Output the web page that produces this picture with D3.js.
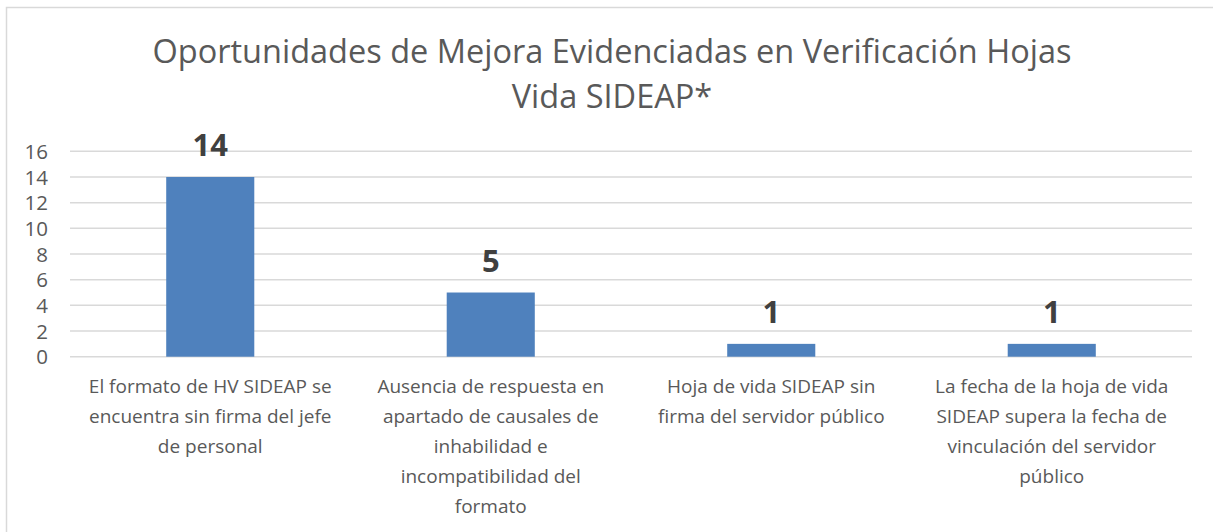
<!DOCTYPE html>
<html>
<head>
<meta charset="utf-8">
<script src="https://cdn.jsdelivr.net/npm/d3@7"></script>
<style>
  body { margin: 0; background: #fff; }
  svg { display: block; }
</style>
</head>
<body>
<div id="chart"></div>
<script>
var titleLines = ['Oportunidades de Mejora Evidenciadas en Verificación Hojas', 'Vida SIDEAP*']
var categories = [
  'El formato de HV SIDEAP se encuentra sin firma del jefe de personal',
  'Ausencia de respuesta en apartado de causales de inhabilidad e incompatibilidad del formato',
  'Hoja de vida SIDEAP sin firma del servidor público',
  'La fecha de la hoja de vida SIDEAP supera la fecha de vinculación del servidor público'
]
var values = [14, 5, 1, 1]
var yTicks = [0, 2, 4, 6, 8, 10, 12, 14, 16]

var W = 1213, H = 532
var font = "'Open Sans', sans-serif"

var svg = d3.select('#chart').append('svg')
  .attr('width', W)
  .attr('height', H)

// chart frame
svg.append('rect')
  .attr('x', 6.5).attr('y', 7.5)
  .attr('width', W + 20).attr('height', H + 20)
  .style('fill', 'none')
  .style('stroke', '#d9d9d9')
  .style('stroke-width', 1.5)

svg.append('g').selectAll('text')
  .data(titleLines)
  .enter().append('text')
  .attr('x', 612)
  .attr('y', (d, i) => 63 + i * 45)
  .attr('text-anchor', 'middle')
  .style('font-family', font)
  .style('font-size', '32.5px')
  .style('fill', '#595959')
  .text(d => d)

var x = d3.scaleBand()
  .domain(categories)
  .range([70, 1192])
  .paddingInner(0.686)
  .paddingOuter(0.343)

var y = d3.scaleLinear()
  .domain([0, 16])
  .range([356.7, 151.3])

// gridlines
svg.append('g').selectAll('line')
  .data(yTicks)
  .enter().append('line')
  .attr('x1', 70).attr('x2', 1192)
  .attr('y1', d => y(d)).attr('y2', d => y(d))
  .style('stroke', '#d9d9d9')
  .style('stroke-width', 1.5)

// y axis labels
var yAxis = svg.append('g')
  .attr('transform', 'translate(48,0)')
  .call(d3.axisLeft(y).tickValues(yTicks).tickSize(0).tickPadding(0))
yAxis.select('.domain').remove()
yAxis.selectAll('text')
  .style('font-family', font)
  .style('font-size', '20.5px')
  .style('fill', '#595959')
  .attr('dy', '0.35em')

// bars
svg.append('g').selectAll('rect')
  .data(values)
  .enter().append('rect')
  .attr('x', (d, i) => x(categories[i]))
  .attr('y', d => y(d))
  .attr('width', x.bandwidth())
  .attr('height', d => y(0) - y(d))
  .style('fill', '#4f81bd')

// value labels
svg.append('g').selectAll('text')
  .data(values)
  .enter().append('text')
  .attr('x', (d, i) => x(categories[i]) + x.bandwidth() / 2)
  .attr('y', d => y(d) - 21)
  .attr('text-anchor', 'middle')
  .style('font-family', font)
  .style('font-weight', 'bold')
  .style('font-size', '31px')
  .style('fill', '#404040')
  .text(d => d)

// category labels, wrapped
var catG = svg.append('g').selectAll('text')
  .data(categories)
  .enter().append('text')
  .attr('text-anchor', 'middle')
  .style('font-family', font)
  .style('font-size', '19px')
  .style('fill', '#595959')

catG.each(function(d) {
  var t = d3.select(this)
  var cx = x(d) + x.bandwidth() / 2
  var words = d.split(' ')
  var lines = []
  var line = []
  var probe = t.append('tspan')
  words.forEach(function(w) {
    line.push(w)
    probe.text(line.join(' '))
    if (probe.node().getComputedTextLength() > 255 && line.length > 1) {
      line.pop()
      lines.push(line.join(' '))
      line = [w]
    }
  })
  lines.push(line.join(' '))
  probe.remove()
  lines.forEach(function(l, i) {
    t.append('tspan')
      .attr('x', cx)
      .attr('y', 393 + i * 30)
      .text(l)
  })
})
</script>
</body>
</html>
